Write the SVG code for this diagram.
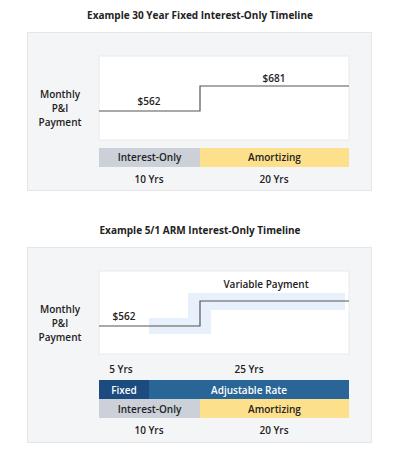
<svg xmlns="http://www.w3.org/2000/svg" width="410" height="453" viewBox="0 0 410 453">
<style>
text{font-family:"Open Sans","Liberation Sans",sans-serif;font-weight:600;font-size:10px;fill:#222;text-anchor:middle;dominant-baseline:central}
.title{font-weight:700;font-size:10px}
.panel{fill:#f4f5f7;stroke:#e4e6ea;stroke-width:1}
.chart{fill:#fff;stroke:#e8eaee;stroke-width:1}
.step{fill:none;stroke:#555;stroke-width:1.2}
.io{fill:#cbd0d9}
.am{fill:#fde08b}
.wt{fill:#fff}
</style>
<rect width="410" height="453" fill="#fff"/>
<text class="title" x="200" y="15">Example 30 Year Fixed Interest-Only Timeline</text>
<g id="panel1">
<rect class="panel" x="27.5" y="32.5" width="344" height="158"/>
<rect class="chart" x="99" y="56" width="250" height="84"/>
</g>
<g id="ylabel1">
<text x="60" y="94">Monthly</text>
<text x="60" y="108">P&amp;I</text>
<text x="60" y="122">Payment</text>
</g>
<g id="connectors1">
<polyline class="step" points="99,111 200,111 200,86 349,86"/>
</g>
<g id="val562a"><text x="149" y="101">$562</text></g>
<g id="val681"><text x="274" y="78">$681</text></g>
<g id="io1"><rect class="io" x="99" y="148" width="101" height="19"/><text x="149.5" y="157">Interest-Only</text></g>
<g id="am1"><rect class="am" x="200" y="148" width="149" height="19"/><text x="274.5" y="157">Amortizing</text></g>
<g id="yrs1">
<text x="149" y="179">10 Yrs</text>
<text x="274" y="179">20 Yrs</text>
</g>

<text class="title" x="200" y="230">Example 5/1 ARM Interest-Only Timeline</text>
<g id="panel2">
<rect class="panel" x="27.5" y="247.5" width="344" height="195"/>
<rect class="chart" x="99" y="271" width="250" height="83"/>
<polygon fill="#e8f1fb" points="149,318 188,318 188,293 345,293 345,310 211,310 211,334 149,334"/>
</g>
<g id="ylabel2">
<text x="60" y="309">Monthly</text>
<text x="60" y="323">P&amp;I</text>
<text x="60" y="337">Payment</text>
</g>
<g id="connectors2">
<polyline class="step" points="99,326 200,326 200,301 349,301"/>
</g>
<g id="variable"><text x="266" y="284">Variable Payment</text></g>
<g id="val562b"><text x="124" y="316">$562</text></g>
<g id="yrs2a">
<text x="121" y="369">5 Yrs</text>
<text x="249" y="369">25 Yrs</text>
</g>
<g id="fixed"><rect fill="#1b4b7f" x="99" y="380" width="50" height="19"/><text class="wt" x="124" y="389.5">Fixed</text></g>
<g id="adj"><rect fill="#2a6597" x="149" y="380" width="200" height="19"/><text class="wt" x="249" y="389.5">Adjustable Rate</text></g>
<g id="io2"><rect class="io" x="99" y="399" width="101" height="19"/><text x="149.5" y="408.5">Interest-Only</text></g>
<g id="am2"><rect class="am" x="200" y="399" width="149" height="19"/><text x="274.5" y="408.5">Amortizing</text></g>
<g id="yrs2b">
<text x="149" y="430">10 Yrs</text>
<text x="274" y="430">20 Yrs</text>
</g>
</svg>
